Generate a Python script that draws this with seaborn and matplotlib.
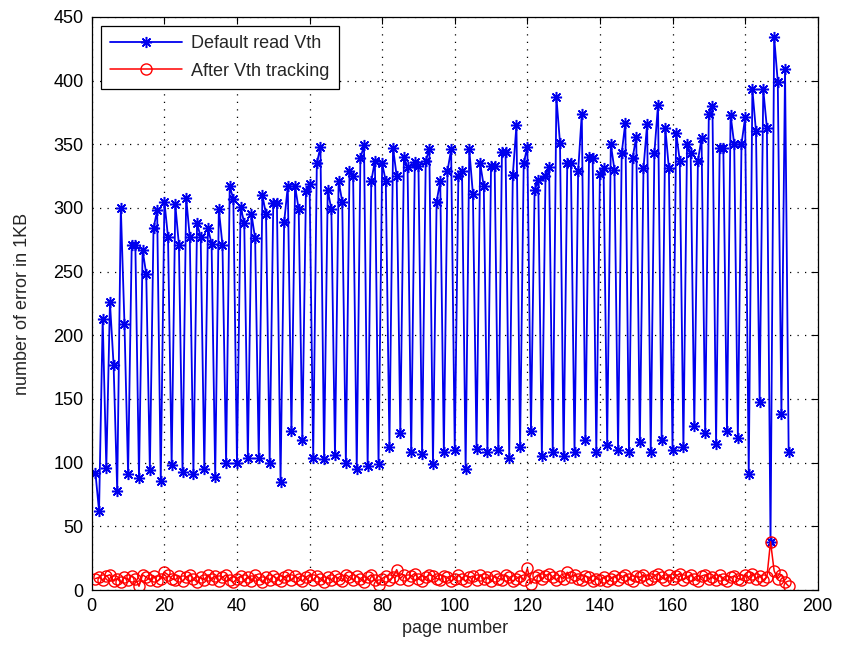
import numpy as np
import pandas as pd
import matplotlib
matplotlib.use("Agg")
import matplotlib.pyplot as plt
import seaborn as sns

pages = list(range(1, 193))

default_vth = [
    92, 62, 213, 96, 226, 177, 78, 300, 209, 91,
    271, 271, 88, 267, 248, 94, 284, 298, 86, 305,
    277, 98, 303, 271, 93, 308, 277, 91, 288, 277,
    95, 284, 272, 89, 299, 271, 100, 317, 307, 100,
    301, 288, 104, 295, 276, 104, 310, 295, 100, 304,
    304, 85, 289, 317, 125, 317, 299, 118, 313, 319,
    104, 335, 348, 103, 314, 299, 106, 321, 305, 100,
    329, 325, 95, 339, 349, 97, 321, 337, 99, 335,
    321, 112, 347, 325, 123, 340, 332, 108, 336, 333,
    107, 337, 346, 99, 305, 321, 108, 329, 346, 110,
    325, 329, 95, 346, 311, 111, 335, 317, 108, 333,
    333, 110, 344, 344, 104, 326, 365, 112, 335, 348,
    125, 314, 322, 105, 325, 332, 108, 387, 351, 105,
    335, 335, 108, 329, 374, 118, 340, 339, 108, 327,
    331, 114, 350, 330, 110, 343, 367, 108, 339, 356,
    116, 331, 366, 108, 343, 381, 118, 363, 331, 110,
    359, 337, 112, 350, 343, 129, 337, 355, 123, 374,
    380, 115, 347, 347, 125, 373, 350, 119, 350, 371,
    91, 393, 360, 148, 393, 363, 38, 434, 399, 138,
    409, 108,
]

after_tracking = [
    9, 10, 8, 11, 12, 7, 9, 6, 10, 8, 11, 9, 3, 12, 10, 8, 11, 7, 9, 14,
    12, 9, 8, 11, 7, 10, 12, 9, 6, 10, 8, 12, 9, 11, 7, 10, 12, 8, 6, 9,
    11, 8, 10, 7, 12, 9, 6, 10, 8, 11, 9, 7, 10, 12, 8, 11, 9, 7, 10, 12,
    8, 11, 9, 6, 10, 8, 11, 9, 7, 12, 10, 8, 11, 9, 6, 10, 12, 8, 4, 9,
    11, 8, 10, 16, 9, 12, 8, 11, 13, 9, 7, 10, 12, 11, 9, 8, 11, 10, 7, 9,
    12, 9, 7, 10, 11, 8, 12, 9, 10, 7, 11, 9, 8, 12, 10, 7, 9, 11, 8, 17,
    5, 10, 12, 9, 11, 13, 10, 8, 11, 9, 14, 10, 12, 9, 8, 11, 10, 7, 9, 8,
    10, 7, 9, 11, 8, 10, 12, 9, 7, 11, 10, 12, 8, 9, 11, 13, 10, 8, 12, 9,
    11, 13, 8, 10, 12, 9, 7, 11, 12, 9, 10, 8, 12, 9, 7, 10, 11, 9, 8, 12,
    10, 13, 9, 11, 8, 10, 38, 15, 9, 12, 6, 3,
]

x_ticks = list(range(0, 201, 20))
y_ticks = list(range(0, 451, 50))

sns.set_theme(style="white")
plt.rcParams["font.family"] = ["Liberation Sans", "DejaVu Sans"]

df = pd.DataFrame({"page": pages, "default": default_vth, "after": after_tracking})

fig = plt.figure(figsize=(8.5, 6.47), dpi=100)
ax = fig.add_axes([0.108, 0.088, 0.854, 0.886])

sns.lineplot(data=df, x="page", y="default", ax=ax, color="#0000ee", linewidth=1.3,
             marker=(8, 2, 0), markersize=8, markeredgecolor="#0000ee",
             markerfacecolor="#0000ee", markeredgewidth=1.1, label="Default read Vth",
             errorbar=None, sort=False)
sns.lineplot(data=df, x="page", y="after", ax=ax, color="red", linewidth=1.1,
             marker="o", markersize=8, markeredgecolor="red",
             markerfacecolor="none", markeredgewidth=1.0, label="After Vth tracking",
             errorbar=None, sort=False)

ax.set_xlim(0, 200)
ax.set_ylim(0, 450)
ax.set_xticks(x_ticks)
ax.set_yticks(y_ticks)
ax.tick_params(direction="in", top=True, right=True, length=5, width=0.8,
               labelsize=13, colors="black", pad=6)
ax.grid(True, color="black", linestyle=(0, (1, 5)), linewidth=0.9)
for s in ax.spines.values():
    s.set_color("black")
    s.set_linewidth(0.9)

ax.set_xlabel("page number", fontsize=13, labelpad=3)
ax.set_ylabel("number of error in 1KB", fontsize=13, labelpad=16)

leg = ax.legend(loc="upper left", fontsize=13, frameon=True, fancybox=False,
                borderaxespad=0.5, handlelength=4.0, borderpad=0.5,
                labelspacing=0.6, handletextpad=0.5)
leg.get_frame().set_edgecolor("black")
leg.get_frame().set_linewidth(0.9)
leg.get_frame().set_alpha(1)

fig.savefig("out.png", dpi=100)
